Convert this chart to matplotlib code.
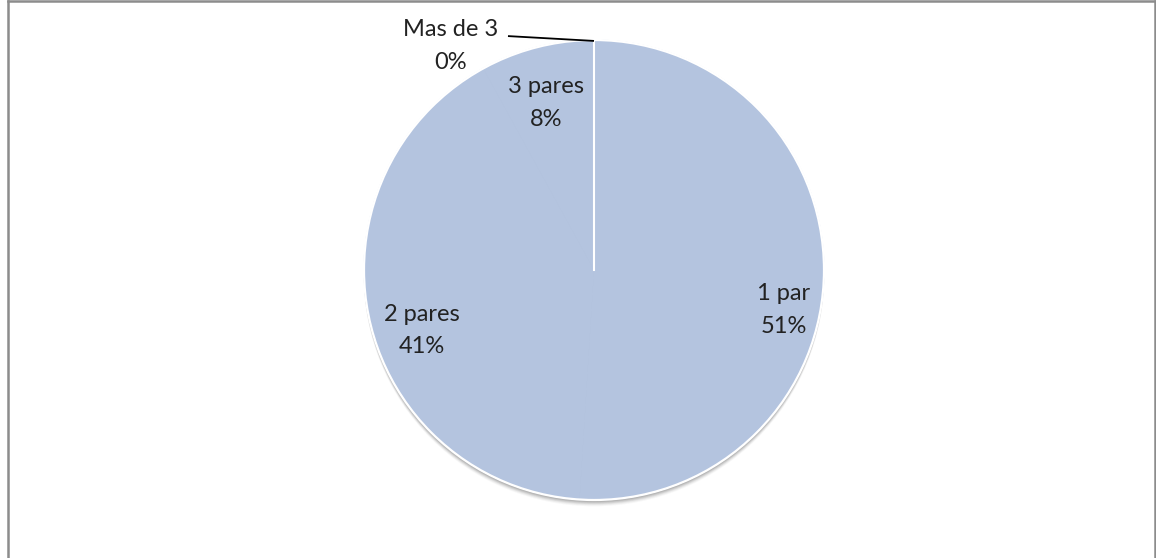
import matplotlib
matplotlib.use("Agg")
import matplotlib.pyplot as plt
from matplotlib.patches import Circle
from matplotlib.lines import Line2D
import numpy as np

# Pairs of shoes owned
categories = ["1 par", "2 pares", "3 pares", "Mas de 3"]
percentages = [51, 41, 8, 0]
pct_labels = ["51%", "41%", "8%", "0%"]

# Label anchor points (pie radius units)
label_pos = [(0.826, -0.174), (-0.748, -0.261), (-0.209, 0.726), (-0.622, 0.974)]

W, H = 1156, 558
cx, cy, R = 594, 270, 230  # pixel centre and radius

plt.rcParams['font.family'] = ['Lato', 'DejaVu Sans']
fig = plt.figure(figsize=(W / 100, H / 100), dpi=100)
ax = fig.add_axes([0, 0, 1, 1])

fill = "#B4C4DF"

wedges, _ = ax.pie(percentages, colors=[fill] * len(percentages),
                   startangle=90, counterclock=False, radius=1.0,
                   wedgeprops=dict(edgecolor=fill, linewidth=0.8))
for w in wedges:
    w.set_zorder(2)

ax.set_xlim(-cx / R, (W - cx) / R)
ax.set_ylim((cy - H) / R, cy / R)
ax.set_aspect("auto")
ax.axis("off")

# soft shadow under the pie
for i, a in enumerate([0.14, 0.13, 0.11, 0.09, 0.06, 0.04]):
    off = (i + 1) * 1.0 / R
    ax.add_patch(Circle((0.0, -off), 1.0 + 0.3 / R, facecolor="#404040",
                        edgecolor="none", alpha=a, zorder=1))

# white rim
ax.add_patch(Circle((0, 0), 1.0, facecolor="none", edgecolor="white",
                    linewidth=1.6, zorder=3))

# white divider at the start of the first slice
t = np.deg2rad(wedges[0].theta2)
ax.add_line(Line2D([0, np.cos(t)], [0, np.sin(t)], color="white",
                   linewidth=1.5, zorder=3))

# leader line for the empty slice
ax.add_line(Line2D([-0.374, 0.0], [1.017, 0.996], color="black",
                   linewidth=1.3, zorder=4, solid_capstyle="butt"))

for cat, pl, (x, y) in zip(categories, pct_labels, label_pos):
    ax.text(x, y, f"{cat}\n{pl}", ha="center", va="center", fontsize=17,
            color="#222222", linespacing=1.65, zorder=5)

# outer frame (top, left, right)
gray = "#8C8C8C"
fig.add_artist(Line2D([7.5 / W, 7.5 / W], [0, 1 - 1 / H], transform=fig.transFigure,
                      color=gray, linewidth=1.8))
fig.add_artist(Line2D([1155 / W, 1155 / W], [0, 1 - 1 / H], transform=fig.transFigure,
                      color=gray, linewidth=1.8))
fig.add_artist(Line2D([7.5 / W, 1155 / W], [1 - 1 / H, 1 - 1 / H], transform=fig.transFigure,
                      color=gray, linewidth=1.8))

fig.savefig("out.png", dpi=100)
